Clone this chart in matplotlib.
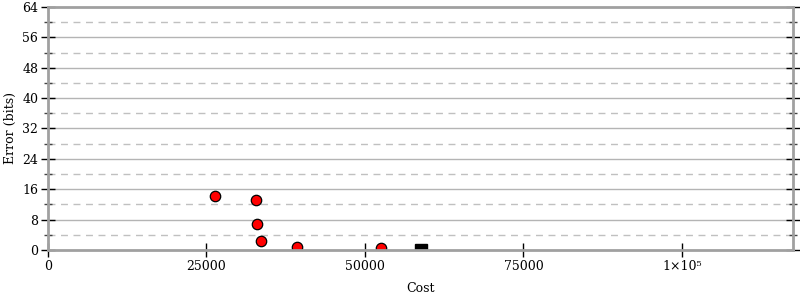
import matplotlib
matplotlib.use("Agg")
import matplotlib.pyplot as plt
from matplotlib.ticker import FixedLocator, FuncFormatter

# Red circles: candidate points
cost = [26340, 32800, 32970, 33600, 39270, 52520]
error_bits = [14.2, 13.2, 6.85, 2.4, 0.9, 0.45]

# Black square: reference point
ref_cost = [58830]
ref_error = [0.0]

x_ticks = [0, 25000, 50000, 75000, 100000]
x_labels = ["0", "25000", "50000", "75000", "1×10⁵"]
y_major = [0, 8, 16, 24, 32, 40, 48, 56, 64]
y_minor = [4, 12, 20, 28, 36, 44, 52, 60]

plt.rcParams["font.family"] = "DejaVu Serif"
plt.rcParams["font.size"] = 9

fig = plt.figure(figsize=(8, 3), dpi=100)
ax = fig.add_axes([0.06, 0.1667, 0.931, 0.81])

ax.set_xlim(0, 117500)
ax.set_ylim(0, 64)

for y in y_major[1:-1]:
    ax.axhline(y, color="#b4b4b4", lw=1, zorder=1)
for y in y_minor:
    ax.axhline(y, color="#c0c0c0", lw=1, ls=(0, (5, 4)), zorder=1)

ax.plot(cost, error_bits, "o", ms=7.5, mfc="red", mec="black", mew=0.9, zorder=5)
ax.plot(ref_cost, ref_error, "s", ms=8.5, mfc="black", mec="black", zorder=5)

for side in ["left", "right", "top", "bottom"]:
    ax.spines[side].set_color("#a0a0a0")
    ax.spines[side].set_linewidth(2)
    ax.spines[side].set_zorder(6)

ax.xaxis.set_major_locator(FixedLocator(x_ticks))
ax.xaxis.set_major_formatter(FuncFormatter(lambda v, p: x_labels[x_ticks.index(int(v))] if int(v) in x_ticks else ""))
ax.yaxis.set_major_locator(FixedLocator(y_major))
ax.yaxis.set_minor_locator(FixedLocator(y_minor))

ax.tick_params(axis="x", direction="inout", length=10, width=1, color="black", pad=2)
ax.tick_params(axis="y", which="major", direction="inout", length=10, width=1,
               color="black", left=True, right=True, pad=2)
ax.tick_params(axis="y", which="minor", direction="inout", length=6, width=1,
               color="#444444", left=True, right=True)

ax.set_xlabel("Cost", labelpad=7)
ax.set_ylabel("Error (bits)", labelpad=4)

fig.savefig("out.png", dpi=100)
